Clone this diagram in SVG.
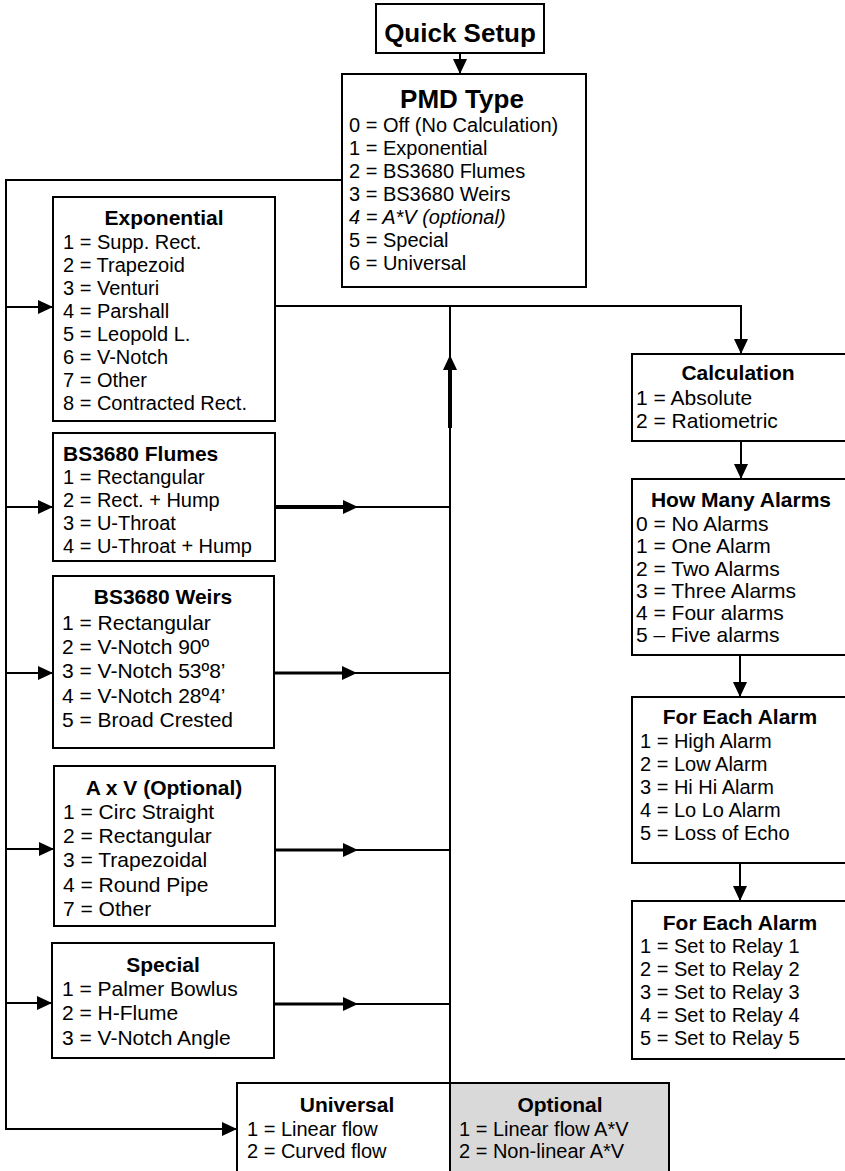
<svg xmlns="http://www.w3.org/2000/svg" width="845" height="1171" viewBox="0 0 845 1171">
<style>
.box{fill:#fff;stroke:#000;stroke-width:2}
.opt{fill:#d9d9d9}
text{font-family:"Liberation Sans",Arial,sans-serif;fill:#000}
.big{font-size:26px;font-weight:bold;text-anchor:middle}
.t{font-size:21px;font-weight:bold;text-anchor:middle}
.tl{font-size:21px;font-weight:bold}
.i{font-size:20px}
.j{font-size:21px}
.c{fill:none;stroke:#000;stroke-width:2}
.k{fill:none;stroke:#000;stroke-width:4}
.m{fill:none;stroke:#000;stroke-width:3}
</style>
<defs>
<marker id="ah" viewBox="0 0 15 14" refX="15" refY="7" markerWidth="15" markerHeight="14" markerUnits="userSpaceOnUse" orient="auto">
<path d="M0,0 L15,7 L0,14 z" fill="#000"/>
</marker>
</defs>
<g id="connectors">
<path class="c" d="M460,53 V74" marker-end="url(#ah)"/>
<path class="c" d="M342,180 H6 V1129 H237" marker-end="url(#ah)"/>
<path class="c" d="M6,307 H53" marker-end="url(#ah)"/>
<path class="c" d="M6,507 H53" marker-end="url(#ah)"/>
<path class="c" d="M6,673 H53" marker-end="url(#ah)"/>
<path class="c" d="M6,849 H54" marker-end="url(#ah)"/>
<path class="c" d="M6,1003 H52" marker-end="url(#ah)"/>
<path class="c" d="M275,306 H741 V354" marker-end="url(#ah)"/>
<path class="c" d="M450,1083 V355" marker-end="url(#ah)"/>
<path class="c" d="M450,306 V356"/>
<path class="k" d="M450,369 V428"/>
<path class="c" d="M275,507 H358" marker-end="url(#ah)"/>
<path class="c" d="M358,507 H450"/>
<path class="k" d="M275,507 H344"/>
<path class="c" d="M274,673 H357" marker-end="url(#ah)"/>
<path class="c" d="M357,673 H450"/>
<path class="m" d="M274,673 H343"/>
<path class="c" d="M275,850 H358" marker-end="url(#ah)"/>
<path class="c" d="M358,850 H450"/>
<path class="m" d="M275,850 H344"/>
<path class="c" d="M274,1004 H358" marker-end="url(#ah)"/>
<path class="c" d="M358,1004 H450"/>
<path class="m" d="M274,1004 H344"/>
<path class="c" d="M741,441 V479" marker-end="url(#ah)"/>
<path class="c" d="M740,655 V697" marker-end="url(#ah)"/>
<path class="c" d="M740,863 V901" marker-end="url(#ah)"/>
</g>
<g id="quick-setup">
<rect class="box" x="376" y="4" width="168" height="49"/>
<text class="big" x="460" y="42">Quick Setup</text>
</g>
<g id="pmd-type">
<rect class="box" x="342" y="74" width="244" height="213"/>
<text class="big" x="462" y="108">PMD Type</text>
<text class="i" x="349" y="132">0 = Off (No Calculation)</text>
<text class="i" x="349" y="155">1 = Exponential</text>
<text class="i" x="349" y="178">2 = BS3680 Flumes</text>
<text class="i" x="349" y="201">3 = BS3680 Weirs</text>
<text class="i" x="349" y="224" font-style="italic">4 = A*V (optional)</text>
<text class="i" x="349" y="247">5 = Special</text>
<text class="i" x="349" y="270">6 = Universal</text>
</g>
<g id="exponential">
<rect class="box" x="53" y="197" width="222" height="224"/>
<text class="t" x="164" y="225">Exponential</text>
<text class="i" x="63" y="249">1 = Supp. Rect.</text>
<text class="i" x="63" y="272">2 = Trapezoid</text>
<text class="i" x="63" y="295">3 = Venturi</text>
<text class="i" x="63" y="318">4 = Parshall</text>
<text class="i" x="63" y="341">5 = Leopold L.</text>
<text class="i" x="63" y="364">6 = V-Notch</text>
<text class="i" x="63" y="387">7 = Other</text>
<text class="i" x="63" y="410">8 = Contracted Rect.</text>
</g>
<g id="bs3680-flumes">
<rect class="box" x="53" y="433" width="222" height="128"/>
<text class="tl" x="63" y="461">BS3680 Flumes</text>
<text class="i" x="63" y="484">1 = Rectangular</text>
<text class="i" x="63" y="507">2 = Rect. + Hump</text>
<text class="i" x="63" y="530">3 = U-Throat</text>
<text class="i" x="63" y="553">4 = U-Throat + Hump</text>
</g>
<g id="bs3680-weirs">
<rect class="box" x="53" y="576" width="221" height="172"/>
<text class="t" x="163" y="604">BS3680 Weirs</text>
<text class="j" x="62" y="630">1 = Rectangular</text>
<text class="j" x="62" y="654">2 = V-Notch 90º</text>
<text class="j" x="62" y="678">3 = V-Notch 53º8’</text>
<text class="j" x="62" y="703">4 = V-Notch 28º4’</text>
<text class="j" x="62" y="727">5 = Broad Crested</text>
</g>
<g id="axv">
<rect class="box" x="54" y="766" width="221" height="160"/>
<text class="t" x="164" y="795">A x V (Optional)</text>
<text class="j" x="63" y="819">1 = Circ Straight</text>
<text class="j" x="63" y="843">2 = Rectangular</text>
<text class="j" x="63" y="867">3 = Trapezoidal</text>
<text class="j" x="63" y="892">4 = Round Pipe</text>
<text class="j" x="63" y="916">7 = Other</text>
</g>
<g id="special">
<rect class="box" x="52" y="943" width="222" height="115"/>
<text class="t" x="163" y="972">Special</text>
<text class="j" x="62" y="996">1 = Palmer Bowlus</text>
<text class="j" x="62" y="1020">2 = H-Flume</text>
<text class="j" x="62" y="1045">3 = V-Notch Angle</text>
</g>
<g id="universal">
<rect class="box" x="237" y="1083" width="213" height="100"/>
<text class="t" x="347" y="1112">Universal</text>
<text class="i" x="247" y="1136">1 = Linear flow</text>
<text class="i" x="247" y="1158">2 = Curved flow</text>
</g>
<g id="optional">
<rect class="box opt" x="450" y="1083" width="219" height="100"/>
<text class="t" x="560" y="1112">Optional</text>
<text class="i" x="459" y="1136">1 = Linear flow A*V</text>
<text class="i" x="459" y="1158">2 = Non-linear A*V</text>
</g>
<g id="calculation">
<rect class="box" x="632" y="354" width="215" height="87"/>
<text class="t" x="738" y="380">Calculation</text>
<text class="j" x="636" y="405">1 = Absolute</text>
<text class="j" x="636" y="428">2 = Ratiometric</text>
</g>
<g id="how-many-alarms">
<rect class="box" x="632" y="479" width="215" height="176"/>
<text class="t" x="741" y="507">How Many Alarms</text>
<text class="j" x="636" y="531">0 = No Alarms</text>
<text class="j" x="636" y="553">1 = One Alarm</text>
<text class="j" x="636" y="576">2 = Two Alarms</text>
<text class="j" x="636" y="598">3 = Three Alarms</text>
<text class="j" x="636" y="620">4 = Four alarms</text>
<text class="j" x="636" y="642">5 – Five alarms</text>
</g>
<g id="for-each-alarm-type">
<rect class="box" x="632" y="697" width="215" height="166"/>
<text class="t" x="740" y="724">For Each Alarm</text>
<text class="i" x="640" y="748">1 = High Alarm</text>
<text class="i" x="640" y="771">2 = Low Alarm</text>
<text class="i" x="640" y="794">3 = Hi Hi Alarm</text>
<text class="i" x="640" y="817">4 = Lo Lo Alarm</text>
<text class="i" x="640" y="840">5 = Loss of Echo</text>
</g>
<g id="for-each-alarm-relay">
<rect class="box" x="632" y="901" width="215" height="158"/>
<text class="t" x="740" y="930">For Each Alarm</text>
<text class="i" x="640" y="953">1 = Set to Relay 1</text>
<text class="i" x="640" y="976">2 = Set to Relay 2</text>
<text class="i" x="640" y="999">3 = Set to Relay 3</text>
<text class="i" x="640" y="1022">4 = Set to Relay 4</text>
<text class="i" x="640" y="1045">5 = Set to Relay 5</text>
</g>
</svg>
